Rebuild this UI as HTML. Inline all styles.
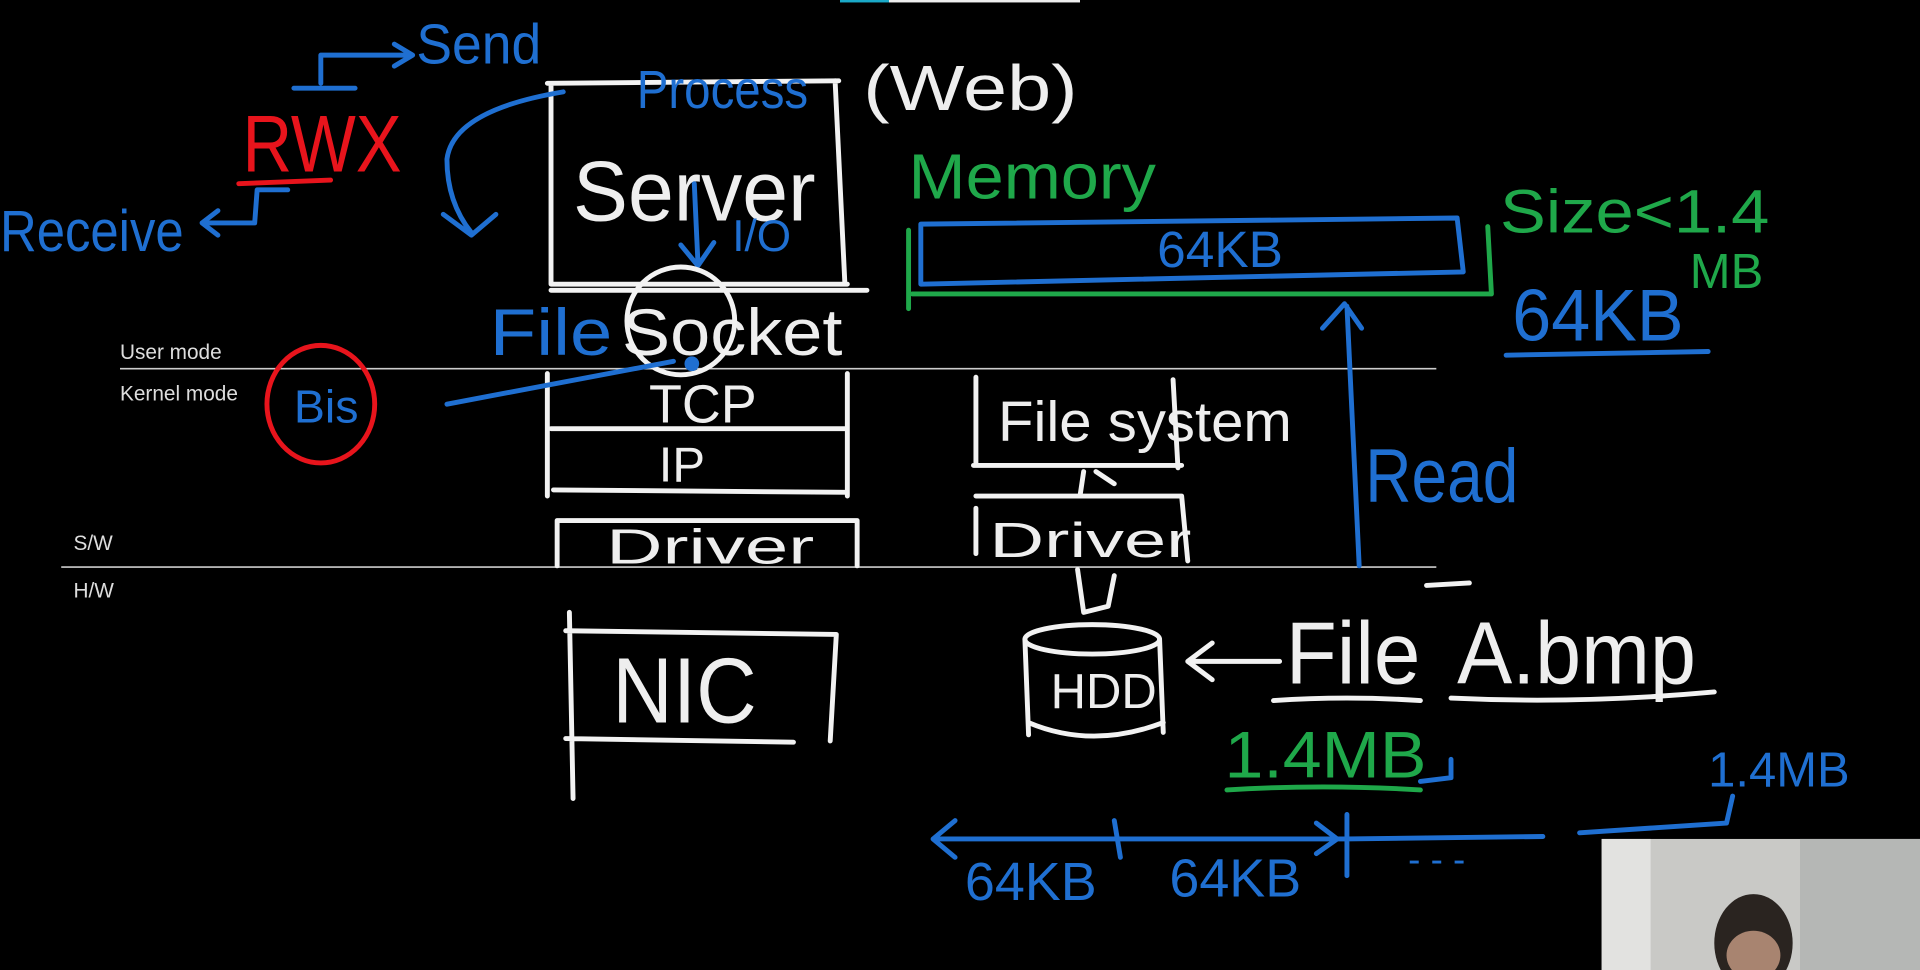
<!DOCTYPE html>
<html><head><meta charset="utf-8"><style>
html,body{margin:0;padding:0;background:#000;overflow:hidden}
svg{display:block}
text{font-family:"Liberation Sans",sans-serif}
.w{stroke:#f2f2f2;stroke-width:4;fill:none;stroke-linecap:round;stroke-linejoin:round}
.b{stroke:#1f6fd1;stroke-width:4;fill:none;stroke-linecap:round;stroke-linejoin:round}
.g{stroke:#1fa84a;stroke-width:4;fill:none;stroke-linecap:round}
.r{stroke:#e8141c;stroke-width:4;fill:none;stroke-linecap:round}
.hw{font-weight:normal;stroke:none!important}
</style></head><body>
<svg width="1920" height="970" viewBox="0 0 1568 792" preserveAspectRatio="none">
<rect width="1568" height="792" fill="#000"/>
<rect x="686" y="0" width="40" height="2" fill="#1aa9c8"/><rect x="726" y="0" width="156" height="2" fill="#eee"/>
<line x1="98" y1="301" x2="1173" y2="301" stroke="#ccc" stroke-width="1.3"/>
<line x1="50" y1="463" x2="1173" y2="463" stroke="#ccc" stroke-width="1.3"/>
<g fill="#ddd" font-size="17"><text x="98" y="293">User mode</text><text x="98" y="327">Kernel mode</text><text x="60" y="449">S/W</text><text x="60" y="488">H/W</text></g>
<path class="w" d="M447 68 L685 66 M450 68 L450 232 M682 66 L690 232 M450 232 L692 232 M450 237 L708 237"/>
<text x="520" y="88" font-size="44" fill="#1f6fd1" class="hw" textLength="140" lengthAdjust="spacingAndGlyphs">Process</text>
<text x="705" y="90" font-size="52" fill="#eee" class="hw" textLength="175" lengthAdjust="spacingAndGlyphs">(Web)</text>
<text x="468" y="180" font-size="70" fill="#eee" class="hw" textLength="198" lengthAdjust="spacingAndGlyphs">Server</text>
<text x="598" y="205" font-size="36" fill="#1f6fd1" class="hw">I/O</text>
<path class="b" d="M567 150 L570 215 M556 200 L570 217 L583 198"/>
<text x="400" y="290" font-size="54" fill="#1f6fd1" class="hw" textLength="100" lengthAdjust="spacingAndGlyphs">File</text>
<text x="508" y="290" font-size="54" fill="#eee" class="hw" textLength="180" lengthAdjust="spacingAndGlyphs">Socket</text>
<circle cx="556" cy="262" r="44" class="w" stroke-width="3"/>
<path class="w" d="M447 305 L447 405 M692 305 L692 405 M450 350 L692 350 M452 400 L692 402"/>
<text x="530" y="345" font-size="44" fill="#eee" class="hw">TCP</text>
<text x="538" y="393" font-size="40" fill="#eee" class="hw">IP</text>
<path class="w" d="M455 425 L700 425 M455 425 L455 462 M700 425 L700 462"/>
<text x="495" y="460" font-size="40" fill="#eee" class="hw" textLength="170" lengthAdjust="spacingAndGlyphs">Driver</text>
<path class="w" d="M797 308 L797 380 M795 380 L965 380 M958 310 L962 382 M797 405 L965 405 M797 415 L797 452 M965 405 L970 458"/>
<text x="815" y="360" font-size="46" fill="#eee" class="hw" textLength="240" lengthAdjust="spacingAndGlyphs">File system</text>
<text x="808" y="455" font-size="40" fill="#eee" class="hw" textLength="165" lengthAdjust="spacingAndGlyphs">Driver</text>
<path class="w" d="M885 385 L882 405 M895 385 L910 395 M880 465 L885 500 L905 495 L910 470"/>
<path class="w" d="M462 515 L683 518 M683 518 L678 605 M462 603 L648 606 M465 500 L468 652"/>
<text x="500" y="590" font-size="76" fill="#eee" class="hw" textLength="118" lengthAdjust="spacingAndGlyphs">NIC</text>
<ellipse cx="892" cy="522" rx="55" ry="12" class="w"/>
<path class="w" d="M837 522 L840 600 M947 522 L950 598 M840 590 Q892 612 950 590"/>
<text x="858" y="578" font-size="40" fill="#eee" class="hw">HDD</text>
<path class="w" d="M970 540 L1045 540 M990 525 L970 540 L990 555"/>
<text x="1050" y="558" font-size="72" fill="#eee" class="hw" textLength="110" lengthAdjust="spacingAndGlyphs">File</text>
<text x="1190" y="558" font-size="72" fill="#eee" class="hw" textLength="195" lengthAdjust="spacingAndGlyphs">A.bmp</text>
<path class="w" d="M1040 572 Q1100 568 1160 572 M1185 570 Q1290 575 1400 565 M1165 478 L1200 476"/>
<text x="1000" y="635" font-size="54" fill="#1fa84a" class="hw" textLength="165" lengthAdjust="spacingAndGlyphs">1.4MB</text>
<path class="g" d="M1002 645 Q1080 640 1160 645"/><path class="b" d="M1185 620 L1185 635 L1160 638"/>
<text x="742" y="162" font-size="52" fill="#1fa84a" class="hw" textLength="202" lengthAdjust="spacingAndGlyphs">Memory</text>
<path class="b" d="M752 183 L1190 178 L1195 222 L752 232 Z"/>
<path class="g" d="M745 240 L1218 240 M742 188 L742 252 M1215 185 L1218 240"/>
<text x="945" y="218" font-size="42" fill="#1f6fd1" class="hw">64KB</text>
<text x="1225" y="190" font-size="50" fill="#1fa84a" class="hw" textLength="220" lengthAdjust="spacingAndGlyphs">Size&lt;1.4</text>
<text x="1380" y="235" font-size="40" fill="#1fa84a" class="hw">MB</text>
<text x="1235" y="278" font-size="60" fill="#1f6fd1" class="hw" textLength="140" lengthAdjust="spacingAndGlyphs">64KB</text>
<path class="b" d="M1230 290 L1395 287"/>
<text x="1115" y="410" font-size="62" fill="#1f6fd1" class="hw" textLength="125" lengthAdjust="spacingAndGlyphs">Read</text>
<path class="b" d="M1110 462 L1100 250 M1080 268 L1098 248 L1112 268"/>
<text x="198" y="140" font-size="66" fill="#e8141c" class="hw" textLength="130" lengthAdjust="spacingAndGlyphs">RWX</text>
<path class="r" d="M195 150 L270 147"/>
<path class="b" d="M262 68 L262 45 L335 45 M322 36 L337 45 L322 54 M240 72 L290 72"/>
<text x="340" y="52" font-size="46" fill="#1f6fd1" class="hw" textLength="102" lengthAdjust="spacingAndGlyphs">Send</text>
<path class="b" d="M210 155 L235 155 M210 155 L208 182 L165 182 M178 172 L165 182 L178 192"/>
<text x="0" y="205" font-size="48" fill="#1f6fd1" class="hw" textLength="150" lengthAdjust="spacingAndGlyphs">Receive</text>
<path class="b" d="M460 75 Q370 90 365 130 Q365 165 385 190 M362 175 L385 192 L405 175"/>
<ellipse cx="262" cy="330" rx="44" ry="48" class="r"/>
<text x="240" y="345" font-size="38" fill="#1f6fd1" class="hw">Bis</text>
<path class="b" d="M365 330 L550 295"/><circle cx="565" cy="297" r="6" fill="#1f6fd1"/>
<path class="b" d="M762 685 L1100 685 M1100 665 L1100 715 M1100 685 L1260 683 M780 670 L762 685 L780 700 M910 670 L915 700 M1075 672 L1092 685 L1075 697 M1290 680 L1410 672 L1415 650"/>
<text x="788" y="735" font-size="44" fill="#1f6fd1" class="hw">64KB</text>
<text x="955" y="732" font-size="44" fill="#1f6fd1" class="hw">64KB</text>
<text x="1150" y="712" font-size="30" fill="#1f6fd1">- - -</text>
<text x="1395" y="642" font-size="40" fill="#1f6fd1" class="hw">1.4MB</text>
<rect x="1308" y="685" width="260" height="107" fill="#c9c9c6"/>
<rect x="1308" y="685" width="40" height="107" fill="#e2e2e0"/>
<rect x="1470" y="685" width="98" height="107" fill="#b5b7b5"/>
<ellipse cx="1432" cy="770" rx="32" ry="40" fill="#2a2420"/>
<ellipse cx="1432" cy="780" rx="22" ry="20" fill="#a88470"/>
</svg>
</body></html>
